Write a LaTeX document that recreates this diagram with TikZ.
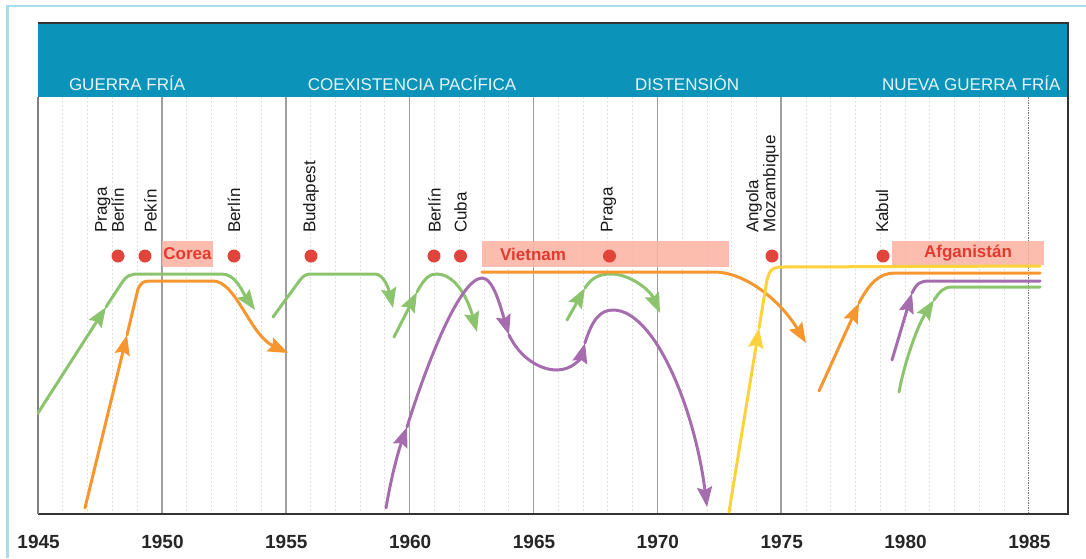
\documentclass[tikz,border=0pt]{standalone}
\usepackage{fontspec}
\setmainfont{Liberation Sans}
\usetikzlibrary{arrows.meta}
\definecolor{frameblue}{HTML}{A9DDE9}
\definecolor{bandblue}{HTML}{0B93B9}
\definecolor{bandtext}{HTML}{E8F5F9}
\definecolor{dotred}{HTML}{E0443A}
\definecolor{warfill}{HTML}{FBB2A0}
\definecolor{warred}{HTML}{E23A30}
\definecolor{gcol}{HTML}{8CC46E}
\definecolor{ocol}{HTML}{F7962F}
\definecolor{pcol}{HTML}{A66DAE}
\definecolor{ycol}{HTML}{FDD23A}
\tikzset{
    era/.style =    {anchor=base west,
                    text=bandtext,
                    inner sep=0pt,
                    font=\fontsize{17}{17}\selectfont},
    event/.style =  {rotate=90,
                    anchor=west,
                    align=left,
                    text=black!90,
                    inner sep=0pt,
                    font=\fontsize{17}{17}\selectfont},
    dot/.style =    {circle,
                    fill=dotred,
                    inner sep=0pt,
                    minimum size=13pt},
    war/.style =    {rectangle,
                    fill=warfill,
                    fill opacity=.85,
                    text opacity=1,
                    text=warred,
                    inner sep=0pt,
                    minimum height=26pt,
                    font=\fontsize{17}{17}\selectfont\bfseries},
    year/.style =   {text=black!85,
                    inner sep=0pt,
                    font=\fontsize{19}{19}\selectfont\bfseries},
    minor/.style =  {draw=black!12,
                    line width=.8pt,
                    dash pattern=on 2pt off 2pt},
    major/.style =  {draw=black!38,
                    line width=1.5pt},
    -,
    gline/.style =  {draw=gcol, line width=3pt, line cap=round},
    oline/.style =  {draw=ocol, line width=3pt, line cap=round},
    pline/.style =  {draw=pcol, line width=3pt, line cap=round},
    yline/.style =  {draw=ycol, line width=3pt, line cap=round},
    >={Stealth[length=20pt,width=15pt,inset=3pt]}}

\begin{document}
\begin{tikzpicture}[x=1pt,y=-1pt]
    \useasboundingbox (0,0) rectangle (1086,558);
    % outer frame
    \draw[frameblue, line width=2.5pt] (7.5,558) -- (7.5,6) -- (1086,6);
    % grid
    \foreach \i in {1,...,39}
        \draw[minor] ({38.1+24.77*\i},97) -- ({38.1+24.77*\i},514);
    \foreach \i in {5,10,...,30}
        \draw[major] ({38.1+24.77*\i},97) -- ({38.1+24.77*\i},514);
    \draw[black!55, line width=1pt, dash pattern=on 1.5pt off 1pt] (1028.9,97) -- (1028.9,514);
    % band
    \fill[bandblue] (38,23) rectangle (1068,97);
    \draw[black!80, line width=2pt] (38,23) -- (1068,23) -- (1068,514) -- (38,514);
    \draw[black!50, line width=1.5pt] (38,97) -- (38,514);
    \node[era] (cold)  at (68.8,90)  {GUERRA FRÍA};
    \node[era] (coex)  at (307.6,90) {COEXISTENCIA PACÍFICA};
    \node[era] (dist)  at (635,90)   {DISTENSIÓN};
    \node[era] (ncold) at (882,90)   {NUEVA GUERRA FRÍA};
    % wars
    \node[war, minimum width=51pt] (corea) at (187.5,254) {Corea};
    \node[war, anchor=west, minimum width=247pt, text width=211pt, align=left,
          inner xsep=18pt] (vietnam) at (482,254) {Vietnam};
    \node[war, minimum width=152pt, minimum height=24pt] (afgan) at (968,253) {Afganistán};
    % events
    \node[dot] (d1) at (118,256) {};
    \node[dot] (d2) at (145,256) {};
    \node[dot] (d3) at (234,256) {};
    \node[dot] (d4) at (311,256) {};
    \node[dot] (d5) at (434,256) {};
    \node[dot] (d6) at (460.5,256) {};
    \node[dot] (d7) at (609.5,256) {};
    \node[dot] (d8) at (772,256) {};
    \node[dot] (d9) at (883,256) {};
    \node[event] (e1) at (109.5,233) {Praga\\Berlín};
    \node[event] (e2) at (150.5,233) {Pekín};
    \node[event] (e3) at (234,233)   {Berlín};
    \node[event] (e4) at (311,233)   {Budapest};
    \node[event] (e5) at (434.5,233) {Berlín};
    \node[event] (e6) at (460.5,233) {Cuba};
    \node[event] (e7) at (608.5,233) {Praga};
    \node[event] (e8) at (762.5,233) {Angola\\Mozambique};
    \node[event] (e9) at (882,233)   {Kabul};
    % curves
    \draw[gline,->] (38,413) -- (106,307);
    \draw[gline,->] (106,307) -- (121,284) .. controls (127,275) and (130,274) .. (140,274)
        -- (222,274) .. controls (236,274) and (243,293) .. (255,310);
    \draw[oline,->] (85,508) -- (127,335);
    \draw[oline,->] (127,335) -- (138,289) .. controls (141,283) and (143,281) .. (150,281)
        -- (213,281) .. controls (236,281) and (250,335) .. (288,353);
    \draw[gline,->] (273,317) -- (300,280) .. controls (304,275) and (306,274) .. (313,274)
        -- (375,274) .. controls (384,274) and (389,290) .. (393,308);
    \draw[gline,->] (394,337) -- (417,292);
    \draw[gline,->] (417,292) .. controls (425,277) and (430,274) .. (437,274)
        .. controls (452,274) and (466,292) .. (477,332);
    \draw[pline,->] (386,508) .. controls (391,478) and (398,452) .. (407,427);
    \draw[pline,->] (407,427) .. controls (428,360) and (460,279) .. (482,278)
        .. controls (493,278) and (500,305) .. (509,335);
    \draw[pline,->] (509,335) .. controls (520,358) and (540,370) .. (557,370)
        .. controls (572,370) and (581,358) .. (585,343);
    \draw[pline,->] (585,343) .. controls (592,320) and (600,310) .. (613,310)
        .. controls (655,310) and (695,410) .. (707,507);
    \draw[gline,->] (567,320) -- (585,288);
    \draw[gline,->] (585,288) .. controls (592,277) and (600,274) .. (611,274)
        .. controls (630,274) and (650,290) .. (660,313);
    \draw[oline,->] (482,272) -- (714,272) .. controls (745,272) and (780,300) .. (806,343);
    \draw[yline,->] (729,512) -- (759,328);
    \draw[yline] (759,328) -- (767,280) .. controls (770,269) and (773,267) .. (782,267) -- (1040,266);
    \draw[oline,->] (819,391) -- (859,303);
    \draw[oline] (859,303) .. controls (870,282) and (880,273) .. (895,273) -- (1040,273);
    \draw[pline,->] (892,360) -- (912,293);
    \draw[pline] (912,293) .. controls (917,283) and (920,281) .. (930,281) -- (1040,281);
    \draw[gline,->] (899,392) .. controls (905,360) and (918,325) .. (934,300);
    \draw[gline] (934,300) .. controls (940,291) and (944,287) .. (952,287) -- (1040,287);
    % years
    \foreach \yr [count=\k from 0] in {1945,1950,...,1985}
        \node[year] (y\yr) at ({38.6+123.85*\k},542) {\yr};
\end{tikzpicture}
\end{document}
